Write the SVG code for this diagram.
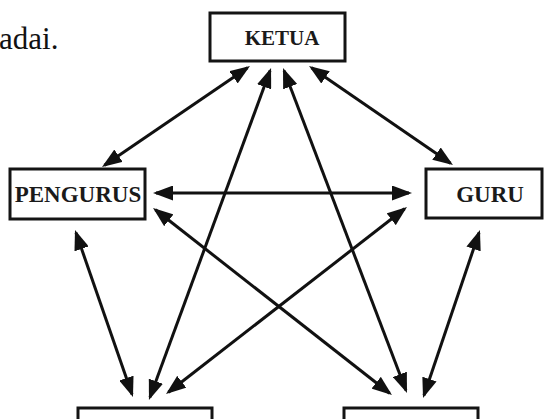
<svg xmlns="http://www.w3.org/2000/svg" width="550" height="419" viewBox="0 0 550 419">
<style>
.box{fill:#fff;stroke:#141414;stroke-width:3}
.lbl{font-family:"Liberation Serif","Times New Roman",serif;font-weight:bold;fill:#1a1a1a;text-anchor:middle}
.body{font-family:"Liberation Serif","Times New Roman",serif;fill:#111}
.con line{stroke:#111;stroke-width:3;marker-start:url(#ah);marker-end:url(#ah)}
</style>
<defs>
<marker id="ah" viewBox="0 0 20 15" refX="17" refY="7.5" markerWidth="20" markerHeight="15" markerUnits="userSpaceOnUse" orient="auto-start-reverse">
<path d="M0,0 L20,7.5 L0,15 z" fill="#111"/>
</marker>
</defs>
<rect width="550" height="419" fill="#fff"/>
<text class="body" x="-1" y="49" font-size="31">adai.</text>
<g class="con">
<line x1="247.5" y1="67.7" x2="104.5" y2="165.3"/>
<line x1="311.5" y1="67.7" x2="450.5" y2="163.3"/>
<line x1="156" y1="193" x2="409" y2="193"/>
<line x1="76" y1="232.8" x2="132" y2="394.2"/>
<line x1="479" y1="232.8" x2="424" y2="395.2"/>
<line x1="270" y1="70.8" x2="150" y2="397.2"/>
<line x1="284.1" y1="70.8" x2="405.9" y2="390.2"/>
<line x1="155.4" y1="209.8" x2="389.6" y2="393.2"/>
<line x1="404.6" y1="208.8" x2="168.4" y2="392.2"/>
</g>
<g id="ketua"><rect class="box" x="210" y="13" width="135" height="48"/><text class="lbl" x="282" y="45" font-size="21">KETUA</text></g>
<g id="pengurus"><rect class="box" x="10" y="169" width="135" height="50"/><text class="lbl" x="78" y="202" font-size="23">PENGURUS</text></g>
<g id="guru"><rect class="box" x="426" y="169" width="116" height="49"/><text class="lbl" x="490" y="202" font-size="23">GURU</text></g>
<g id="node-bl"><rect class="box" x="78" y="408" width="134" height="30"/></g>
<g id="node-br"><rect class="box" x="344" y="408" width="134" height="30"/></g>
</svg>
